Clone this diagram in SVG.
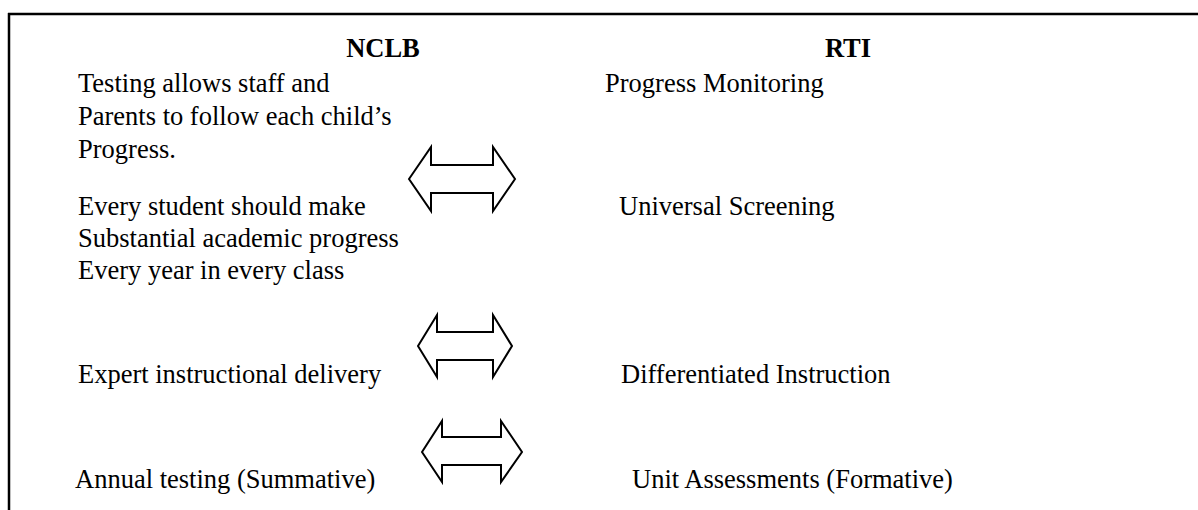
<svg xmlns="http://www.w3.org/2000/svg" width="1198" height="510" viewBox="0 0 1198 510">
<style>
  .t { font-family: "Liberation Serif", "Times New Roman", serif; font-size: 26.5px; fill: #000; }
  .h { font-family: "Liberation Serif", "Times New Roman", serif; font-size: 26.5px; font-weight: bold; fill: #000; text-anchor: middle; }
  .frame { stroke: #000; stroke-width: 2.5; fill: none; }
  .arrow { fill: #fff; stroke: #000; stroke-width: 2; stroke-linejoin: miter; }
</style>
<rect width="1198" height="510" fill="#fff"/>
<g id="frame">
  <line class="frame" x1="8" y1="14" x2="1198" y2="14"/>
  <line class="frame" x1="9" y1="13" x2="9" y2="510"/>
</g>
<g id="header-nclb"><text class="h" x="383" y="57">NCLB</text></g>
<g id="header-rti"><text class="h" x="848" y="57">RTI</text></g>
<g id="nclb-1">
  <text class="t" x="78" y="92">Testing allows staff and</text>
  <text class="t" x="78" y="125">Parents to follow each child’s</text>
  <text class="t" x="78" y="158">Progress.</text>
</g>
<g id="rti-1"><text class="t" x="605" y="92">Progress Monitoring</text></g>
<g id="nclb-2">
  <text class="t" x="78" y="215">Every student should make</text>
  <text class="t" x="78" y="247">Substantial academic progress</text>
  <text class="t" x="78" y="279">Every year in every class</text>
</g>
<g id="rti-2"><text class="t" x="619" y="215">Universal Screening</text></g>
<g id="nclb-3"><text class="t" x="78" y="383">Expert instructional delivery</text></g>
<g id="rti-3"><text class="t" x="621" y="383">Differentiated Instruction</text></g>
<g id="nclb-4"><text class="t" x="75" y="488">Annual testing (Summative)</text></g>
<g id="rti-4"><text class="t" x="632" y="488">Unit Assessments (Formative)</text></g>
<g id="connectors">
  <polygon class="arrow" points="409,179 431,147 431,165 493,165 493,147 515,179 493,211 493,193 431,193 431,211"/>
  <polygon class="arrow" points="418,346 437,315 437,332 493,332 493,315 512,346 493,377 493,360 437,360 437,377"/>
  <polygon class="arrow" points="422,452 442,421 442,437 501,437 501,421 522,452 501,482 501,465 442,465 442,482"/>
</g>
</svg>
